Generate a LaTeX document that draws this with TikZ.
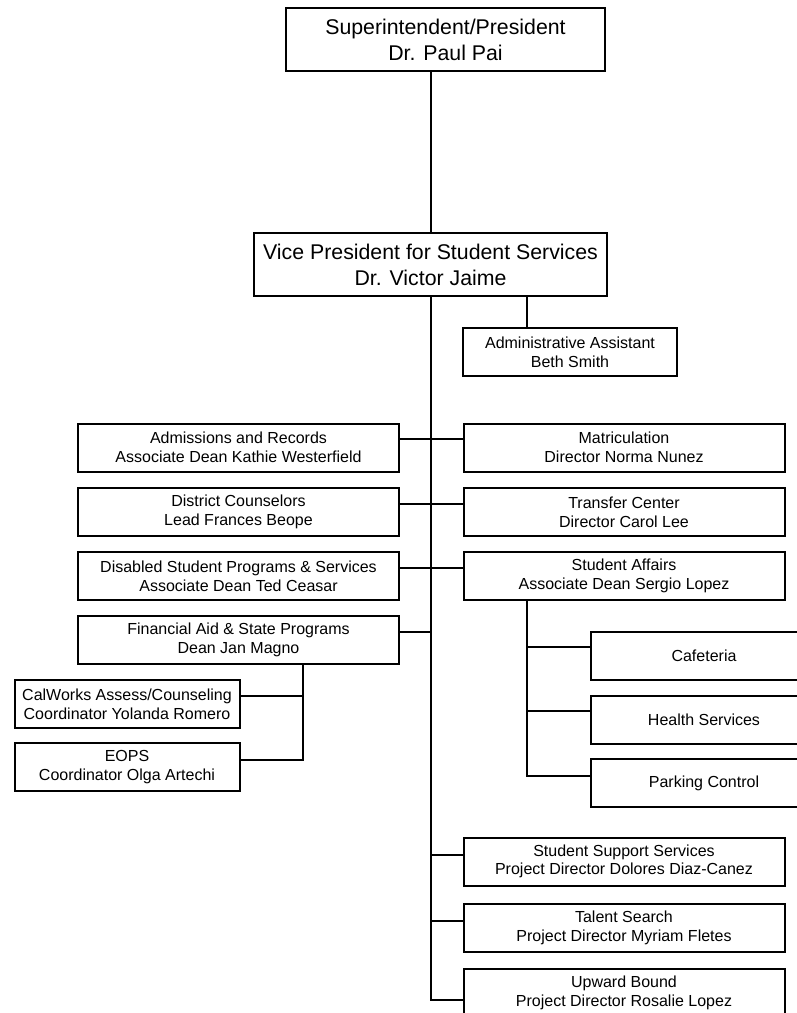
\documentclass[tikz,border=0pt]{standalone}
\usepackage{fontspec}
\setmainfont{Liberation Sans}
\usetikzlibrary{calc}

\begin{document}
\begin{tikzpicture}[x=1pt, y=-1pt, line width=2pt,
    unit/.style={draw, align=center, inner sep=0pt, minimum height=48pt,
      font=\fontsize{16}{18.7}\selectfont},
    head/.style={unit, minimum height=63pt, font=\fontsize{21.3}{26}\selectfont},
    wide/.style={unit, minimum width=321pt},
    aside/.style={unit, minimum width=225pt},
    service/.style={unit, minimum width=226pt}]
    \useasboundingbox (0,0) rectangle (797,1013);
    \clip (0,0) rectangle (797,1013);
    % top of the chart
    \node[head, minimum width=319pt] (pres) at (445.5,39.5) {Superintendent/President\\Dr. Paul Pai};
    \node[head, minimum width=353pt] (vp) at (430.5,264.5) {Vice President for Student Services\\Dr. Victor Jaime};
    \node[unit, minimum width=214pt] (asst) at (570,352) {Administrative Assistant\\Beth Smith};
    % left column
    \node[wide] (adm) at (238.5,447.5) {Admissions and Records\\Associate Dean Kathie Westerfield};
    \node[wide] (dist) at (238.5,512) {District Counselors\\Lead Frances Beope};
    \node[wide] (dsps) at (238.5,576) {Disabled Student Programs \& Services\\Associate Dean Ted Ceasar};
    \node[wide] (fin) at (238.5,640) {Financial Aid \& State Programs\\Dean Jan Magno};
    \node[aside] (cw) at (127,704) {CalWorks Assess/Counseling\\Coordinator Yolanda Romero};
    \node[aside] (eops) at (127,767) {EOPS\\Coordinator Olga Artechi};
    % right column
    \node[wide] (mat) at (624,447.5) {Matriculation\\Director Norma Nunez};
    \node[wide] (tc) at (624,512) {Transfer Center\\Director Carol Lee};
    \node[wide] (saf) at (624,576) {Student Affairs\\Associate Dean Sergio Lopez};
    \node[service] (caf) at (704,656) {Cafeteria};
    \node[service] (hlth) at (704,720) {Health Services};
    \node[service] (park) at (704,783) {Parking Control};
    \node[wide] (sss) at (624,861.5) {Student Support Services\\Project Director Dolores Diaz-Canez};
    \node[wide] (tal) at (624,928) {Talent Search\\Project Director Myriam Fletes};
    \node[wide] (ub) at (624,993) {Upward Bound\\Project Director Rosalie Lopez};

    \coordinate (trunk) at (430.5,1000);
    \coordinate (finbus) at (302.7,760);
    \coordinate (safbus) at (527,776);

    \draw (vp.north) -- (vp.north |- pres.south);
    \draw (vp.south) -- (trunk) -- (trunk -| ub.west);
    \draw (vp.south -| safbus) -- (safbus |- asst.north);
    \draw ([yshift=8.5pt]adm.east) -- ([yshift=8.5pt]mat.west);
    \draw ([yshift=8.5pt]dist.east) -- ([yshift=8.5pt]tc.west);
    \draw ([yshift=8.5pt]dsps.east) -- ([yshift=8.5pt]saf.west);
    \draw ([yshift=8.5pt]fin.east) -- ([yshift=8.5pt]fin.east -| trunk);
    \foreach \n in {sss,tal}
        \draw ([yshift=7pt]\n.west) -- ([yshift=7pt]\n.west -| trunk);
    % sub-branches
    \draw (finbus |- fin.south) -- (finbus) -- (finbus -| eops.east);
    \draw ([yshift=8pt]cw.east) -- ([yshift=8pt]cw.east -| finbus);
    \draw (safbus |- saf.south) -- (safbus) -- (safbus -| park.west);
    \foreach \n in {caf,hlth}
        \draw ([yshift=9pt]\n.west) -- ([yshift=9pt]\n.west -| safbus);
\end{tikzpicture}
\end{document}
